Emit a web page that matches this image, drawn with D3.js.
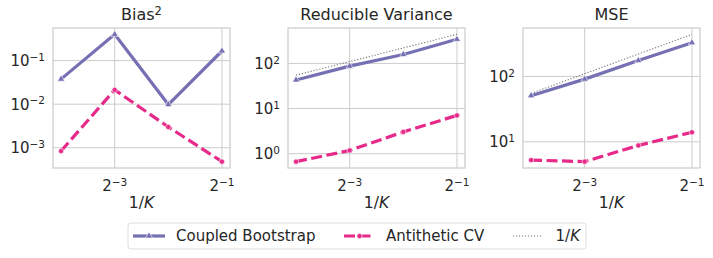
<!DOCTYPE html>
<html>
<head>
<meta charset="utf-8">
<script src="https://cdn.jsdelivr.net/npm/d3@7"></script>
<style>
  body { margin: 0; background: #fff; }
  svg { font-family: "DejaVu Sans", sans-serif; }
</style>
</head>
<body>
<svg width="713" height="258"></svg>
<script>
const svg = d3.select("svg");

// 1/K values on the x axis
const invK = [1 / 16, 1 / 8, 1 / 4, 1 / 2];

// Bias^2
const biasCoupled = [0.0376, 0.40, 0.0098, 0.166];
const biasAntithetic = [0.00084, 0.0213, 0.0030, 0.00048];

// Reducible variance
const varCoupled = [43, 87, 158, 342];
const varAntithetic = [0.667, 1.18, 3.04, 7.05];

// MSE
const mseCoupled = [50.8, 91, 175, 328];
const mseAntithetic = [5.27, 4.98, 8.8, 14.0];

// 1/K reference line
const refLine = [55, 110, 220, 440];

const xTicks = [1 / 8, 1 / 2];
const xTickExp = ["−3", "−1"];

const panels = [
  { title: "Bias", sup: "2", coupled: biasCoupled, anti: biasAntithetic, ref: null,
    ticks: [1e-3, 1e-2, 1e-1], tickExp: ["−3", "−2", "−1"], left: 53 },
  { title: "Reducible Variance", sup: null, coupled: varCoupled, anti: varAntithetic, ref: refLine,
    ticks: [1, 10, 100], tickExp: ["0", "1", "2"], left: 288 },
  { title: "MSE", sup: null, coupled: mseCoupled, anti: mseAntithetic, ref: refLine,
    ticks: [10, 100], tickExp: ["1", "2"], left: 523 }
];

const purple = "#7570b3";
const pink = "#e7298a";
const grid = "#cccccc";
const textColor = "#262626";

const plotTop = 28, plotBottom = 168, w = 177;

function logPad(vals, base) {
  const lo = Math.log(d3.min(vals)) / Math.log(base);
  const hi = Math.log(d3.max(vals)) / Math.log(base);
  const m = (hi - lo) * 0.05;
  return [Math.pow(base, lo - m), Math.pow(base, hi + m)];
}

const triangle = d3.symbol().type(d3.symbolTriangle).size(22);

panels.forEach(p => {
  const g = svg.append("g").attr("transform", `translate(${p.left},0)`);

  const x = d3.scaleLog().base(2).domain(logPad(invK, 2)).range([0, w]);
  const all = p.coupled.concat(p.anti, p.ref || []);
  const y = d3.scaleLog().domain(logPad(all, 10)).range([plotBottom, plotTop]);

  // grid
  g.selectAll("line.gy").data(p.ticks).enter().append("line")
    .attr("x1", 0).attr("x2", w)
    .attr("y1", d => y(d)).attr("y2", d => y(d))
    .attr("stroke", grid).attr("stroke-width", 1);
  g.selectAll("line.gx").data(xTicks).enter().append("line")
    .attr("x1", d => x(d)).attr("x2", d => x(d))
    .attr("y1", plotTop).attr("y2", plotBottom)
    .attr("stroke", grid).attr("stroke-width", 1);

  // frame
  g.append("rect").attr("x", 0).attr("y", plotTop).attr("width", w).attr("height", plotBottom - plotTop)
    .attr("fill", "none").attr("stroke", grid).attr("stroke-width", 1.25);

  // y tick labels
  p.ticks.forEach((t, i) => {
    const tx = g.append("text")
      .attr("x", -8).attr("y", y(t)).attr("dy", "0.36em")
      .attr("text-anchor", "end").attr("fill", textColor).attr("font-size", 15);
    tx.append("tspan").text("10");
    tx.append("tspan").attr("dy", "-0.5em").attr("font-size", 10.5).text(p.tickExp[i]);
  });

  // x tick labels
  xTicks.forEach((t, i) => {
    const tx = g.append("text")
      .attr("x", x(t)).attr("y", 191)
      .attr("text-anchor", "middle").attr("fill", textColor).attr("font-size", 15);
    tx.append("tspan").text("2");
    tx.append("tspan").attr("dy", "-0.5em").attr("font-size", 10.5).text(xTickExp[i]);
  });

  // x label
  const xl = g.append("text").attr("x", w / 2).attr("y", 208)
    .attr("text-anchor", "middle").attr("fill", textColor).attr("font-size", 15.5);
  xl.append("tspan").text("1/");
  xl.append("tspan").attr("font-style", "italic").text("K");

  // title
  const tt = g.append("text").attr("x", w / 2).attr("y", 20)
    .attr("text-anchor", "middle").attr("fill", textColor).attr("font-size", 16);
  tt.append("tspan").text(p.title);
  if (p.sup) tt.append("tspan").attr("dy", "-0.45em").attr("font-size", 11.5).text(p.sup);

  const line = d3.line().x((d, i) => x(invK[i])).y(d => y(d));

  if (p.ref) {
    g.append("path").datum(p.ref).attr("d", line)
      .attr("fill", "none").attr("stroke", "#777777").attr("stroke-width", 1.1)
      .attr("stroke-dasharray", "1.2,1.8");
  }

  g.append("path").datum(p.coupled).attr("d", line)
    .attr("fill", "none").attr("stroke", purple).attr("stroke-width", 3.2);
  g.selectAll("path.tri").data(p.coupled).enter().append("path")
    .attr("transform", (d, i) => `translate(${x(invK[i])},${y(d)})`)
    .attr("d", triangle).attr("fill", purple).attr("stroke", "#fff").attr("stroke-width", 0.6);

  g.append("path").datum(p.anti).attr("d", line)
    .attr("fill", "none").attr("stroke", pink).attr("stroke-width", 3.2)
    .attr("stroke-dasharray", "11,4.5");
  g.selectAll("circle.dot").data(p.anti).enter().append("circle")
    .attr("cx", (d, i) => x(invK[i])).attr("cy", d => y(d)).attr("r", 2.6)
    .attr("fill", pink).attr("stroke", "#fff").attr("stroke-width", 0.6);
});

// legend
const lg = svg.append("g");
lg.append("rect").attr("x", 128).attr("y", 223).attr("width", 458).attr("height", 26)
  .attr("rx", 3).attr("fill", "#fff").attr("stroke", "#dddddd").attr("stroke-width", 1);

const ly = 236;
lg.append("line").attr("x1", 133).attr("x2", 165).attr("y1", ly).attr("y2", ly)
  .attr("stroke", purple).attr("stroke-width", 3.2);
lg.append("path").attr("transform", `translate(149,${ly})`).attr("d", triangle)
  .attr("fill", purple).attr("stroke", "#fff").attr("stroke-width", 0.6);
lg.append("text").attr("x", 176).attr("y", ly).attr("dy", "0.36em")
  .attr("font-size", 15).attr("fill", textColor).text("Coupled Bootstrap");

lg.append("line").attr("x1", 344).attr("x2", 375).attr("y1", ly).attr("y2", ly)
  .attr("stroke", pink).attr("stroke-width", 3.2).attr("stroke-dasharray", "11,4.5");
lg.append("circle").attr("cx", 359.5).attr("cy", ly).attr("r", 2.6)
  .attr("fill", pink).attr("stroke", "#fff").attr("stroke-width", 0.6);
lg.append("text").attr("x", 386).attr("y", ly).attr("dy", "0.36em")
  .attr("font-size", 15).attr("fill", textColor).text("Antithetic CV");

lg.append("line").attr("x1", 513).attr("x2", 543).attr("y1", ly).attr("y2", ly)
  .attr("stroke", "#777777").attr("stroke-width", 1.1).attr("stroke-dasharray", "1.2,1.8");
const kt = lg.append("text").attr("x", 580).attr("y", ly).attr("dy", "0.36em")
  .attr("text-anchor", "end").attr("font-size", 15).attr("fill", textColor);
kt.append("tspan").text("1/");
kt.append("tspan").attr("font-style", "italic").text("K");
</script>
</body>
</html>
